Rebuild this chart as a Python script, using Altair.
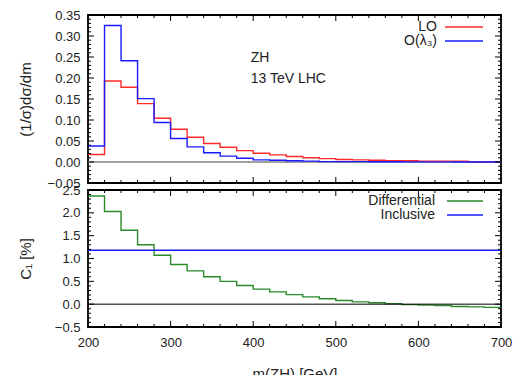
import altair as alt
import pandas as pd

edges = list(range(200, 701, 20))  # bin edges 200..700
lo = [0.018, 0.193, 0.178, 0.139, 0.104, 0.078, 0.059, 0.044, 0.035, 0.027,
      0.021, 0.017, 0.013, 0.010, 0.008, 0.006, 0.005, 0.004, 0.003, 0.003,
      0.002, 0.002, 0.002, 0.001, 0.001]
ol3 = [0.038, 0.325, 0.241, 0.151, 0.094, 0.056, 0.036, 0.022, 0.014, 0.009,
       0.005, 0.004, 0.003, 0.002, 0.001, 0.001, 0.001, 0.0005, 0.0005, 0.0003,
       0.0002, 0.0002, 0.0001, 0.0001, 0.0001]
c1 = [2.37, 2.03, 1.62, 1.30, 1.07, 0.87, 0.73, 0.60, 0.50, 0.41,
      0.33, 0.27, 0.21, 0.16, 0.12, 0.08, 0.05, 0.03, 0.01, -0.01,
      -0.02, -0.03, -0.05, -0.06, -0.07]
inclusive = 1.18

x_major = [200, 300, 400, 500, 600, 700]
x_minor = list(range(200, 701, 20))
y1_major = [-0.05, 0.0, 0.05, 0.10, 0.15, 0.20, 0.25, 0.30, 0.35]
y1_minor = [round(-0.05 + 0.01 * i, 3) for i in range(41)]
y2_major = [-0.5, 0.0, 0.5, 1.0, 1.5, 2.0, 2.5]
y2_minor = [round(-0.5 + 0.1 * i, 2) for i in range(31)]

W = 413
H1 = 168
H2 = 137
FONT = "Liberation Sans"

def steps(vals, name):
    ys = vals + [vals[-1]]
    return pd.DataFrame({"m": edges, "v": ys, "s": name})

top_df = pd.concat([steps(lo, "LO"), steps(ol3, "O(λ₃)")])
bot_df = steps(c1, "Differential")

xs = alt.Scale(domain=[200, 700], nice=False, zero=False)
ys1 = alt.Scale(domain=[-0.05, 0.35], nice=False, zero=False)
ys2 = alt.Scale(domain=[-0.5, 2.5], nice=False, zero=False)


def yaxis(title, fmt, vals, h):
    return alt.Axis(title=title, format=fmt, values=vals, ticks=False, domain=False,
                    grid=False, labelFont=FONT, labelFontSize=13, labelColor="#222",
                    labelPadding=8, labelFlush=False, labelOverlap=False,
                    titleFont=FONT, titleFontSize=15,
                    titleFontWeight="normal", titleColor="#222",
                    titleX=-63, titleY=h / 2, titleAngle=-90, titleAlign="center",
                    titleBaseline="middle")


AX_Y1 = yaxis("(1/σ)dσ/dm", ".2f", y1_major, H1)
AX_Y2 = yaxis("C₁ [%]", ".1f", y2_major, H2)
AX_X1 = alt.Axis(title=None, values=x_major, labels=False, ticks=False, domain=False, grid=False)
AX_X2 = alt.Axis(
    title="m(ZH) [GeV]", values=x_major, format="d", ticks=False, domain=False, grid=False,
    labelFont=FONT, labelFontSize=13, labelColor="#222", labelPadding=9,
    labelFlush=False, labelOverlap=False,
    titleFont=FONT, titleFontSize=15, titleFontWeight="normal", titleColor="#222",
    titlePadding=17)


def ticks_layer(yscale, h, ymaj, ymin, ax_x, ax_y):
    xt = pd.DataFrame({"t": x_minor, "len": [6 if v in x_major else 3 for v in x_minor]})
    yt = pd.DataFrame({"t": ymin, "len": [6 if any(abs(v - m) < 1e-9 for m in ymaj) else 3 for v in ymin]})
    layers = []
    for big in (6, 3):
        xd = xt[xt["len"] == big]
        yd = yt[yt["len"] == big]
        layers.append(alt.Chart(xd).mark_rule(color="black", strokeWidth=1).encode(
            x=alt.X("t:Q", scale=xs, axis=ax_x, title=None), y=alt.value(0), y2=alt.value(big)))
        layers.append(alt.Chart(xd).mark_rule(color="black", strokeWidth=1).encode(
            x=alt.X("t:Q", scale=xs, axis=ax_x, title=None), y=alt.value(h - big), y2=alt.value(h)))
        layers.append(alt.Chart(yd).mark_rule(color="black", strokeWidth=1).encode(
            y=alt.Y("t:Q", scale=yscale, axis=ax_y, title=None), x=alt.value(0), x2=alt.value(big)))
        layers.append(alt.Chart(yd).mark_rule(color="black", strokeWidth=1).encode(
            y=alt.Y("t:Q", scale=yscale, axis=ax_y, title=None), x=alt.value(W - big), x2=alt.value(W)))
    return layers


# ---------- top panel ----------
zero_top = alt.Chart(pd.DataFrame({"y": [0.0]})).mark_rule(color="#a0a0a0", strokeWidth=2).encode(
    y=alt.Y("y:Q", scale=ys1, axis=AX_Y1),
    x=alt.value(0), x2=alt.value(W))

top_lines = alt.Chart(top_df).mark_line(interpolate="step-after", strokeWidth=1.4, clip=True).encode(
    x=alt.X("m:Q", scale=xs, axis=AX_X1),
    y=alt.Y("v:Q", scale=ys1, axis=AX_Y1),
    color=alt.Color("s:N", scale=alt.Scale(domain=["LO", "O(λ₃)"], range=["#ff2a2a", "#1a1aff"]), legend=None),
    detail="s:N")

ann = pd.DataFrame({"m": [397, 397], "v": [0.248, 0.198], "t": ["ZH", "13 TeV LHC"]})
top_text = alt.Chart(ann).mark_text(align="left", baseline="middle", font=FONT, fontSize=14, color="#222").encode(
    x=alt.X("m:Q", scale=xs, axis=AX_X1), y=alt.Y("v:Q", scale=ys1, axis=AX_Y1), text="t:N")

leg1 = pd.DataFrame({"lab": ["LO", "O(λ₃)"], "yy": [12, 26], "c": ["#ff2a2a", "#1a1aff"]})
leg1_text = alt.Chart(leg1).mark_text(align="right", baseline="middle", font=FONT, fontSize=14, color="#222").encode(
    x=alt.value(349), y=alt.Y("yy:Q", scale=None), text="lab:N")
leg1_line = alt.Chart(leg1).mark_rule(strokeWidth=1.4).encode(
    x=alt.value(357), x2=alt.value(395), y=alt.Y("yy:Q", scale=None), color=alt.Color("c:N", scale=None))

top = alt.layer(zero_top, top_lines, top_text, leg1_text, leg1_line,
                *ticks_layer(ys1, H1, y1_major, y1_minor, AX_X1, AX_Y1)).properties(width=W, height=H1)

# ---------- bottom panel ----------
zero_bot = alt.Chart(pd.DataFrame({"y": [0.0]})).mark_rule(color="black", strokeWidth=1).encode(
    y=alt.Y("y:Q", scale=ys2, axis=AX_Y2),
    x=alt.value(0), x2=alt.value(W))

incl = alt.Chart(pd.DataFrame({"y": [inclusive]})).mark_rule(color="#1a1aff", strokeWidth=1.4).encode(
    y=alt.Y("y:Q", scale=ys2, axis=AX_Y2), x=alt.value(0), x2=alt.value(W))

bot_line = alt.Chart(bot_df).mark_line(interpolate="step-after", strokeWidth=1.4, color="#2a8a2a", clip=True).encode(
    x=alt.X("m:Q", scale=xs, axis=AX_X2), y=alt.Y("v:Q", scale=ys2, axis=AX_Y2))

leg2 = pd.DataFrame({"lab": ["Differential", "Inclusive"], "yy": [11, 25], "c": ["#2a8a2a", "#1a1aff"]})
leg2_text = alt.Chart(leg2).mark_text(align="right", baseline="middle", font=FONT, fontSize=14, color="#222").encode(
    x=alt.value(347), y=alt.Y("yy:Q", scale=None), text="lab:N")
leg2_line = alt.Chart(leg2).mark_rule(strokeWidth=1.4).encode(
    x=alt.value(359), x2=alt.value(395), y=alt.Y("yy:Q", scale=None), color=alt.Color("c:N", scale=None))

bot = alt.layer(bot_line, zero_bot, incl, leg2_text, leg2_line,
                *ticks_layer(ys2, H2, y2_major, y2_minor, AX_X2, AX_Y2)).properties(width=W, height=H2)

chart = alt.vconcat(top, bot, spacing=7, bounds="flush").properties(
    padding={"left": 17, "top": 8, "right": 5, "bottom": 5},
    background="white",
).configure_view(stroke="black", strokeWidth=1.8).resolve_scale(color="independent")

chart.save("out.html", embed_options={"renderer": "svg", "actions": False})
